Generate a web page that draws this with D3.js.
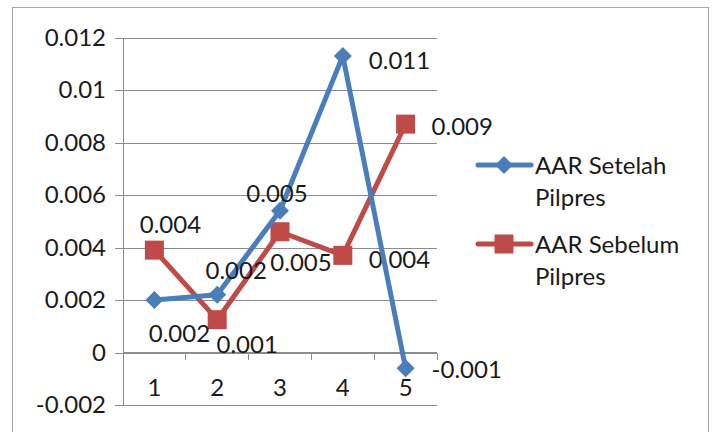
<!DOCTYPE html>
<html>
<head>
<meta charset="utf-8">
<script src="https://cdn.jsdelivr.net/npm/d3@7"></script>
<style>
  html, body { margin: 0; padding: 0; background: #fff; }
  svg { display: block; font-family: Lato, "Open Sans", sans-serif; }
</style>
</head>
<body>
<svg id="chart" width="714" height="432"></svg>
<script>
// ---- data ----
const categories = ["1", "2", "3", "4", "5"];
const seriesNames = ["AAR Setelah Pilpres", "AAR Sebelum Pilpres"];
const setelahValues = [0.0020, 0.0022, 0.0054, 0.0113, -0.0006];
const sebelumValues = [0.0039, 0.00125, 0.0046, 0.0037, 0.0087];
const setelahLabels = ["0.002", "0.002", "0.005", "0.011", "-0.001"];
const sebelumLabels = ["0.004", "0.001", "0.005", "0.004", "0.009"];
const yTicks = [-0.002, 0, 0.002, 0.004, 0.006, 0.008, 0.01, 0.012];
const yTickLabels = ["-0.002", "0", "0.002", "0.004", "0.006", "0.008", "0.01", "0.012"];

// ---- layout (label placement relative to point: [dx, dy, anchor]) ----
const setelahLabelPlace = [[25, 33, "middle"], [19, -24, "middle"], [-3, -17, "middle"], [26, 4, "start"], [26, 1, "start"]];
const sebelumLabelPlace = [[16, -26, "middle"], [30, 25, "middle"], [21, 31, "middle"], [26, 4, "start"], [26, 2, "start"]];

const svg = d3.select("#chart");
const plot = { left: 123, right: 437, top: 37.5, bottom: 405 };
const blue = "#4A7EBB", red = "#BE4B48", grid = "#8c8c8c", textCol = "#1a1a1a";
const fontSize = 24;

// outer border
svg.append("rect").attr("x", 12.5).attr("y", 7.5).attr("width", 696).attr("height", 440)
  .attr("fill", "none").attr("stroke", "#a6a6a6").attr("stroke-width", 1);

const x = d3.scaleBand().domain(categories).range([plot.left, plot.right]).padding(0);
const y = d3.scaleLinear().domain([-0.002, 0.012]).range([plot.bottom, plot.top]);

// gridlines + y axis
const yAxis = d3.axisLeft(y).tickValues(yTicks)
  .tickFormat((d, i) => yTickLabels[i])
  .tickSize(-(plot.right - plot.left)).tickPadding(17);
const gy = svg.append("g").attr("transform", `translate(${plot.left},0)`).call(yAxis);
gy.select(".domain").remove();
gy.selectAll(".tick line").attr("stroke", grid).attr("x1", -8).attr("shape-rendering", "crispEdges");
gy.selectAll(".tick text").attr("font-size", fontSize).attr("fill", textCol)
  .attr("font-family", "Lato, sans-serif");

// vertical axis line
svg.append("line").attr("x1", plot.left).attr("x2", plot.left)
  .attr("y1", y(0.012)).attr("y2", y(-0.002))
  .attr("stroke", grid).attr("shape-rendering", "crispEdges");

// x axis at zero
const xAxis = d3.axisBottom(x).tickSize(0).tickPadding(26);
const gx = svg.append("g").attr("transform", `translate(0,${y(0)})`).call(xAxis);
gx.select(".domain").attr("stroke", grid).attr("d", `M${plot.left},0H${plot.right}`).attr("shape-rendering", "crispEdges");
gx.selectAll(".tick text").attr("font-size", fontSize).attr("fill", textCol).attr("font-family", "Lato, sans-serif");
// category boundary tick marks
const bounds = categories.map(c => x(c) + x.bandwidth());
gx.selectAll(".bt").data(bounds).enter().append("line")
  .attr("x1", d => d).attr("x2", d => d).attr("y1", 0).attr("y2", 7)
  .attr("stroke", grid).attr("shape-rendering", "crispEdges");

const cx = c => x(c) + x.bandwidth() / 2;
const line = d3.line().x((d, i) => cx(categories[i])).y(d => y(d));

function drawSeries(values, color, shape) {
  const g = svg.append("g");
  g.append("path").datum(values).attr("d", line).attr("fill", "none")
    .attr("stroke", color).attr("stroke-width", 5).attr("stroke-linejoin", "round");
  if (shape === "diamond") {
    g.selectAll("path.m").data(values).enter().append("path").attr("class", "m")
      .attr("d", "M0,-9L9,0L0,9L-9,0Z")
      .attr("transform", (d, i) => `translate(${cx(categories[i])},${y(d)})`)
      .attr("fill", color);
  } else {
    g.selectAll("rect.m").data(values).enter().append("rect").attr("class", "m")
      .attr("x", (d, i) => cx(categories[i]) - 9.5).attr("y", d => y(d) - 9.5)
      .attr("width", 19).attr("height", 19).attr("fill", color);
  }
}
function drawLabels(values, labels, place) {
  svg.append("g").selectAll("text").data(values).enter().append("text")
    .attr("x", (d, i) => cx(categories[i]) + place[i][0])
    .attr("y", (d, i) => y(d) + place[i][1])
    .attr("dy", "0.36em")
    .attr("text-anchor", (d, i) => place[i][2])
    .attr("font-size", fontSize).attr("fill", textCol)
    .text((d, i) => labels[i]);
}

drawSeries(sebelumValues, red, "square");
drawLabels(sebelumValues, sebelumLabels, sebelumLabelPlace);
drawSeries(setelahValues, blue, "diamond");
drawLabels(setelahValues, setelahLabels, setelahLabelPlace);

// legend
const legend = [
  { name: seriesNames[0], color: blue, shape: "diamond", y: 165 },
  { name: seriesNames[1], color: red, shape: "square", y: 244 }
];
legend.forEach(l => {
  const g = svg.append("g");
  g.append("line").attr("x1", 478).attr("x2", 531).attr("y1", l.y).attr("y2", l.y)
    .attr("stroke", l.color).attr("stroke-width", 5).attr("stroke-linecap", "round");
  if (l.shape === "diamond") {
    g.append("path").attr("d", "M0,-9L9,0L0,9L-9,0Z")
      .attr("transform", `translate(504,${l.y})`).attr("fill", l.color);
  } else {
    g.append("rect").attr("x", 504 - 9.5).attr("y", l.y - 9.5).attr("width", 19).attr("height", 19).attr("fill", l.color);
  }
  const words = l.name.split(" ");
  const t = g.append("text").attr("x", 535).attr("y", l.y).attr("dy", "0.36em")
    .attr("font-size", fontSize).attr("fill", textCol);
  t.append("tspan").attr("x", 535).text(words.slice(0, 2).join(" "));
  t.append("tspan").attr("x", 535).attr("dy", 32).text(words.slice(2).join(" "));
});
</script>
</body>
</html>
